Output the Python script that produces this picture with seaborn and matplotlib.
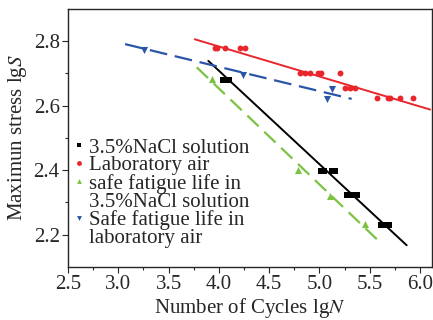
import numpy as np
import matplotlib
matplotlib.use("Agg")
import matplotlib.pyplot as plt
from matplotlib.lines import Line2D
import seaborn as sns

# values
nacl_x = [4.04, 4.07, 4.10, 5.02, 5.05, 5.12, 5.15, 5.27, 5.30, 5.34, 5.37, 5.61, 5.65, 5.69]
nacl_y = [2.68, 2.68, 2.68, 2.397, 2.397, 2.397, 2.397, 2.322, 2.322, 2.322, 2.322, 2.231, 2.231, 2.231]

air_x = [3.96, 3.98, 4.06, 4.21, 4.26, 4.81, 4.86, 4.91, 4.99, 5.02, 5.20,
         5.25, 5.30, 5.35, 5.57, 5.68, 5.70, 5.80, 5.93]
air_y = [2.78, 2.78, 2.78, 2.78, 2.78, 2.70, 2.70, 2.70, 2.70, 2.70, 2.70,
         2.654, 2.654, 2.654, 2.623, 2.623, 2.623, 2.623, 2.623]

safe_nacl_x = [3.93, 4.79, 5.10, 5.45]
safe_nacl_y = [2.683, 2.40, 2.32, 2.232]

safe_air_x = [3.26, 4.24, 5.12, 5.07]
safe_air_y = [2.773, 2.696, 2.652, 2.621]

# fitted lines (end points)
nacl_line_x = [3.895, 5.867]
nacl_line_y = [2.739, 2.167]
air_line_x = [3.76, 6.10]
air_line_y = [2.806, 2.588]
safe_nacl_line_x = [3.78, 5.61]
safe_nacl_line_y = [2.719, 2.174]
safe_air_line_x = [3.067, 5.32]
safe_air_line_y = [2.791, 2.621]

labels = ["3.5%NaCl solution", "Laboratory air",
          "safe fatigue life in", "3.5%NaCl solution",
          "Safe fatigue life in", "laboratory air"]

c_black = "#000000"
c_red = "#e8262b"
c_green = "#7cc242"
c_blue = "#2a56a8"

sns.set_style("ticks")
plt.rcParams["font.family"] = ["Liberation Serif", "DejaVu Serif"]
plt.rcParams["mathtext.fontset"] = "stix"
fs = 15

fig = plt.figure(figsize=(4.33, 3.2), dpi=100)
ax = fig.add_axes([0.157, 0.166, 0.841, 0.806])

sns.lineplot(x=nacl_line_x, y=nacl_line_y, color=c_black, lw=1.4, ax=ax)
sns.lineplot(x=air_line_x, y=air_line_y, color=c_red, lw=1.4, ax=ax)
sns.lineplot(x=safe_nacl_line_x, y=safe_nacl_line_y, color=c_green, lw=1.6, ax=ax,
             dashes=False).lines[-1].set_dashes([7, 3.5])
sns.lineplot(x=safe_air_line_x, y=safe_air_line_y, color=c_blue, lw=1.6, ax=ax,
             dashes=False).lines[-1].set_dashes([8, 3.5])

sns.scatterplot(x=nacl_x, y=nacl_y, marker="s", s=14, color=c_black, linewidth=0, ax=ax)
sns.scatterplot(x=air_x, y=air_y, marker="o", s=18, color=c_red, linewidth=0, ax=ax)
sns.scatterplot(x=safe_nacl_x, y=safe_nacl_y, marker="^", s=26, color=c_green, linewidth=0, ax=ax)
sns.scatterplot(x=safe_air_x, y=safe_air_y, marker="v", s=26, color=c_blue, linewidth=0, ax=ax)

ax.set_xlim(2.5, 6.12)
ax.set_ylim(2.1, 2.9)
ax.set_xticks(np.arange(2.5, 6.01, 0.5))
ax.set_yticks([2.2, 2.4, 2.6, 2.8])
ax.set_xticks(np.arange(2.75, 6.1, 0.5), minor=True)
ax.set_yticks([2.3, 2.5, 2.7], minor=True)
ax.tick_params(which="major", direction="out", length=4, width=0.8, labelsize=fs, pad=2)
ax.tick_params(which="minor", direction="out", length=2.5, width=0.8)
for sp in ax.spines.values():
    sp.set_visible(True)
    sp.set_linewidth(1.0)

ax.set_xlabel(r"Number of Cycles lg$N$", fontsize=fs, labelpad=1)
ax.set_ylabel(r"Maximun stress lg$S$", fontsize=fs, labelpad=3)

# legend: markers only, wrapped labels with marker on the first line
def mk(m, c):
    return Line2D([], [], ls="none", marker=m, color=c, markersize=3.5, markeredgewidth=0)

blank = Line2D([], [], ls="none")
handles = [mk("s", c_black), mk("o", c_red), mk("^", c_green), blank, mk("v", c_blue), blank]
ax.legend(handles, labels, loc="upper left", bbox_to_anchor=(0.013, 0.50), frameon=False,
          fontsize=fs, handlelength=0.6, handletextpad=0.2, labelspacing=-0.08,
          borderaxespad=0.0, borderpad=0.0)

fig.savefig("out.png", dpi=100)
